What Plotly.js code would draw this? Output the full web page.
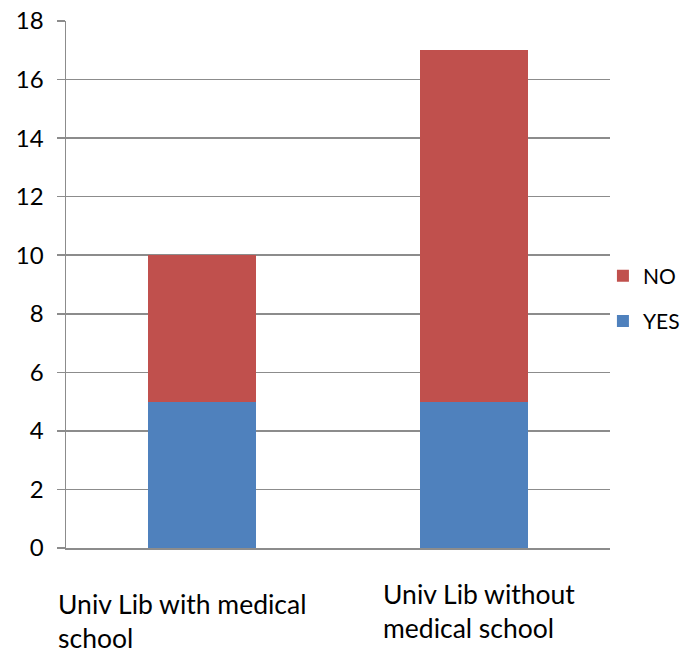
<!DOCTYPE html>
<html>
<head>
<meta charset="utf-8">
<script src="https://cdn.plot.ly/plotly-3.0.1.min.js"></script>
<style>html,body{margin:0;padding:0;background:#fff;}#chart{width:685px;height:655px;}</style>
</head>
<body>
<div id="chart"></div>
<script>
const categories = ["Univ Lib with medical<br>school", "Univ Lib without<br>medical school"];
const yesValues = [5, 5];
const noValues = [5, 12];
const yTicks = [0, 2, 4, 6, 8, 10, 12, 14, 16, 18];

const FONT = "Lato, 'Open Sans', sans-serif";
const gray = "#8c8c8c";

const traces = [
  {type: "bar", name: "YES", legendgroup: "yes", legendrank: 2, x: [0, 1], y: yesValues, marker: {color: "#4F81BD"}, width: 0.4},
  {type: "bar", name: "NO", legendgroup: "no", legendrank: 1, x: [0, 1], y: noValues, marker: {color: "#C0504D"}, width: 0.4}
];

const xshifts = [-146, -93];
const yshifts = [-38, -28];
const annotations = categories.map((c, i) => ({
  x: i, y: 0, xref: "x", yref: "y", text: c, showarrow: false,
  xanchor: "left", yanchor: "top", align: "left",
  xshift: xshifts[i], yshift: yshifts[i],
  font: {family: FONT, size: 26.5, color: "#000"}
}));

const layout = {
  width: 685, height: 655,
  margin: {l: 66, r: 75, t: 21, b: 107, autoexpand: false},
  barmode: "stack",
  paper_bgcolor: "#fff", plot_bgcolor: "#fff",
  font: {family: FONT, color: "#000"},
  xaxis: {range: [-0.5, 1.5], showticklabels: false, showgrid: false, zeroline: false,
          showline: true, linecolor: gray, linewidth: 1.5, ticks: ""},
  yaxis: {range: [0, 18], tickvals: yTicks, ticktext: yTicks.map(String),
          showgrid: true, gridcolor: gray, gridwidth: 1.5, zeroline: false,
          showline: true, linecolor: gray, linewidth: 1.5,
          ticks: "outside", ticklen: 8, tickcolor: gray, tickwidth: 1.5,
          ticklabelstandoff: 8,
          tickfont: {family: FONT, size: 24, color: "#000"}},
  legend: {x: 0.987, xanchor: "left", y: 0.555, yanchor: "top", traceorder: "grouped",
           font: {family: FONT, size: 21, color: "#000"}, itemwidth: 30, tracegroupgap: 15,
           bgcolor: "rgba(0,0,0,0)"},
  showlegend: true,
  annotations: annotations
};

Plotly.newPlot("chart", traces, layout, {displayModeBar: false, staticPlot: true});
</script>
</body>
</html>
